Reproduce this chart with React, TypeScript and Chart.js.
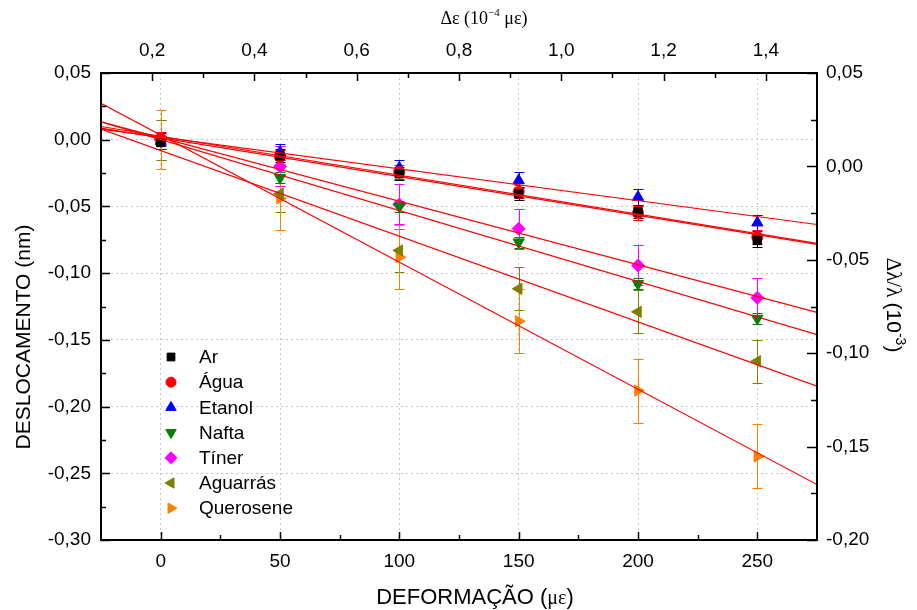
import React, { useEffect, useRef } from 'react';
import { Chart, registerables } from 'chart.js';
import { drawPoint } from 'chart.js/helpers';

Chart.register(...registerables);

// ---------- data ----------
const strain = [0, 50, 100, 150, 200, 250];
const seriesNames = ['Ar', 'Água', 'Etanol', 'Nafta', 'Tíner', 'Aguarrás', 'Querosene'];
const ar = [-0.002, -0.012, -0.0255, -0.0405, -0.054, -0.0755];
const agua = [0.001, -0.013, -0.0243, -0.039, -0.055, -0.073];
const etanol = [-0.001, -0.0093, -0.021, -0.0305, -0.043, -0.0622];
const nafta = [-0.001, -0.0285, -0.05, -0.0768, -0.108, -0.134];
const tiner = [0.0, -0.02, -0.0485, -0.0667, -0.0942, -0.1184];
const aguarras = [0.0, -0.0405, -0.083, -0.1117, -0.129, -0.166];
const querosene = [0.0, -0.044, -0.088, -0.136, -0.188, -0.2374];

const errAr = [0.005, 0.005, 0.005, 0.005, 0.005, 0.005];
const errAgua = [0.005, 0.005, 0.005, 0.005, 0.005, 0.005];
const errEtanol = [0.006, 0.006, 0.006, 0.006, 0.006, 0.006];
const errNafta = [0.004, 0.004, 0.004, 0.004, 0.004, 0.004];
const errTiner = [0.015, 0.015, 0.015, 0.015, 0.015, 0.015];
const errAguarras = [0.015, 0.014, 0.016, 0.016, 0.016, 0.016];
const errQuerosene = [0.022, 0.024, 0.024, 0.024, 0.024, 0.024];

const xTicks = [0, 50, 100, 150, 200, 250];
const xMinorTicks = [25, 75, 125, 175, 225];
const topTicks = [0.2, 0.4, 0.6, 0.8, 1.0, 1.2, 1.4];
const topMinorTicks = [0.3, 0.5, 0.7, 0.9, 1.1, 1.3];
const yTicks = [0.05, 0.0, -0.05, -0.1, -0.15, -0.2, -0.25, -0.3];
const yMinorTicks = [0.025, -0.025, -0.075, -0.125, -0.175, -0.225, -0.275];
const rightTicks = [0.05, 0.0, -0.05, -0.1, -0.15, -0.2];
const rightMinorTicks = [0.025, -0.025, -0.075, -0.125, -0.175];

// ---------- styles ----------
const SANS = "'Liberation Sans', Arial, sans-serif";
const SERIF = "'Liberation Serif', 'Times New Roman', serif";
const seriesValues = [ar, agua, etanol, nafta, tiner, aguarras, querosene];
const seriesErrors = [errAr, errAgua, errEtanol, errNafta, errTiner, errAguarras, errQuerosene];
const colors = ['#000000', '#ff0000', '#0000ff', '#008000', '#ff00ff', '#808000', '#ff8000'];
const styles = ['rect', 'circle', 'triangle', 'triangle', 'rectRot', 'triangle', 'triangle'];
const rotations = [0, 0, 0, 180, 0, 270, 90];
const radii = [6, 5.5, 6.5, 6.5, 6.5, 6.5, 6.5];

function linFit(xs: number[], ys: number[]) {
  const n = xs.length;
  const mx = xs.reduce((a, b) => a + b, 0) / n;
  const my = ys.reduce((a, b) => a + b, 0) / n;
  let sxy = 0, sxx = 0;
  for (let i = 0; i < n; i++) {
    sxy += (xs[i] - mx) * (ys[i] - my);
    sxx += (xs[i] - mx) ** 2;
  }
  const m = sxy / sxx;
  return { m, b: my - m * mx };
}

const fmt2 = (v: number) => v.toFixed(2).replace('.', ',');
const fmt1 = (v: number) => v.toFixed(1).replace('.', ',');

const customPlugin = {
  id: 'customDecor',
  beforeDatasetsDraw(chart: any) {
    const ctx = chart.ctx;
    const xs = chart.scales.x;
    const ys = chart.scales.y;
    ctx.save();
    ctx.lineWidth = 1;
    seriesValues.forEach((vals, si) => {
      ctx.strokeStyle = colors[si];
      vals.forEach((v, i) => {
        const e = seriesErrors[si][i];
        const px = Math.round(xs.getPixelForValue(strain[i])) + 0.5;
        const y1 = Math.round(ys.getPixelForValue(v + e)) + 0.5;
        const y2 = Math.round(ys.getPixelForValue(v - e)) + 0.5;
        ctx.beginPath();
        ctx.moveTo(px, y1);
        ctx.lineTo(px, y2);
        ctx.moveTo(px - 5, y1);
        ctx.lineTo(px + 5, y1);
        ctx.moveTo(px - 5, y2);
        ctx.lineTo(px + 5, y2);
        ctx.stroke();
      });
    });
    ctx.restore();
  },
  afterDraw(chart: any) {
    const ctx = chart.ctx;
    const a = chart.chartArea;
    const xs = chart.scales.x;
    const xt = chart.scales.xTop;
    const ys = chart.scales.y;
    const yr = chart.scales.yRight;
    ctx.save();
    // border
    ctx.strokeStyle = '#000';
    ctx.lineWidth = 2;
    ctx.strokeRect(a.left, a.top, a.right - a.left, a.bottom - a.top);
    // ticks
    ctx.lineWidth = 1.5;
    ctx.beginPath();
    const vTick = (px: number, y0: number, len: number) => {
      const x = Math.round(px) + 0.5;
      ctx.moveTo(x, y0);
      ctx.lineTo(x, y0 + len);
    };
    const hTick = (py: number, x0: number, len: number) => {
      const y = Math.round(py) + 0.5;
      ctx.moveTo(x0, y);
      ctx.lineTo(x0 + len, y);
    };
    xTicks.forEach(v => vTick(xs.getPixelForValue(v), a.bottom, -8));
    xMinorTicks.forEach(v => vTick(xs.getPixelForValue(v), a.bottom, -5));
    topTicks.forEach(v => vTick(xt.getPixelForValue(v), a.top, 8));
    topMinorTicks.forEach(v => vTick(xt.getPixelForValue(v), a.top, 5));
    yTicks.forEach(v => hTick(ys.getPixelForValue(v), a.left, 9));
    yMinorTicks.forEach(v => hTick(ys.getPixelForValue(v), a.left, 5));
    rightTicks.forEach(v => hTick(yr.getPixelForValue(v), a.right, -10));
    rightMinorTicks.forEach(v => hTick(yr.getPixelForValue(v), a.right, -6));
    ctx.stroke();

    // legend
    const lx = 171, ly0 = 357, dy = 25.2;
    seriesNames.forEach((name, i) => {
      const y = ly0 + i * dy;
      ctx.fillStyle = colors[i];
      ctx.strokeStyle = colors[i];
      ctx.lineWidth = 1;
      drawPoint(ctx, { pointStyle: styles[i], rotation: rotations[i], radius: radii[i] - 0.5, borderWidth: 1 } as any, lx, y);
      ctx.fillStyle = '#000';
      ctx.font = `19px ${SANS}`;
      ctx.textAlign = 'left';
      ctx.textBaseline = 'middle';
      ctx.fillText(name, 199, y + 1);
    });

    ctx.fillStyle = '#000';
    ctx.textBaseline = 'alphabetic';
    // bottom title
    {
      const p1 = 'DEFORMAÇÃO (';
      const p2 = 'με';
      const p3 = ')';
      const f1 = `22px ${SANS}`;
      const f2 = `20px ${SERIF}`;
      ctx.font = f1; const w1 = ctx.measureText(p1).width; const w3 = ctx.measureText(p3).width;
      ctx.font = f2; const w2 = ctx.measureText(p2).width;
      let x = 475 - (w1 + w2 + w3) / 2;
      const y = 604;
      ctx.textAlign = 'left';
      ctx.font = f1; ctx.fillText(p1, x, y); x += w1;
      ctx.font = f2; ctx.fillText(p2, x, y); x += w2;
      ctx.font = f1; ctx.fillText(p3, x, y);
    }
    // left title
    {
      ctx.save();
      ctx.translate(30, 337);
      ctx.rotate(-Math.PI / 2);
      ctx.font = `21px ${SANS}`;
      ctx.textAlign = 'center';
      ctx.fillText('DESLOCAMENTO (nm)', 0, 0);
      ctx.restore();
    }
    // top title
    {
      const f = `18px ${SERIF}`;
      const fs = `11px ${SERIF}`;
      const p1 = 'Δε (10';
      const sup = '−4';
      const p3 = ' με)';
      ctx.font = f; const w1 = ctx.measureText(p1).width; const w3 = ctx.measureText(p3).width;
      ctx.font = fs; const w2 = ctx.measureText(sup).width;
      let x = 484 - (w1 + w2 + w3) / 2;
      const y = 24;
      ctx.textAlign = 'left';
      ctx.font = f; ctx.fillText(p1, x, y); x += w1;
      ctx.font = fs; ctx.fillText(sup, x, y - 8); x += w2;
      ctx.font = f; ctx.fillText(p3, x, y);
    }
    // right title
    {
      ctx.save();
      ctx.translate(887, 305);
      ctx.rotate(Math.PI / 2);
      const f1 = `21px ${SERIF}`;
      const f2 = `21px ${SANS}`;
      const fs = `14px ${SANS}`;
      const p1 = 'Δλ/λ ';
      const p2 = '(10';
      const sup = '-3';
      const p4 = ')';
      ctx.font = f1; const w1 = ctx.measureText(p1).width;
      ctx.font = f2; const w2 = ctx.measureText(p2).width; const w4 = ctx.measureText(p4).width;
      ctx.font = fs; const w3 = ctx.measureText(sup).width;
      let x = -(w1 + w2 + w3 + w4) / 2;
      ctx.textAlign = 'left';
      ctx.font = f1; ctx.fillText(p1, x, 0); x += w1;
      ctx.font = f2; ctx.fillText(p2, x, 0); x += w2;
      ctx.font = fs; ctx.fillText(sup, x, -9); x += w3;
      ctx.font = f2; ctx.fillText(p4, x, 0);
      ctx.restore();
    }
    ctx.restore();
  },
};

export default function App() {
  const ref = useRef<HTMLCanvasElement | null>(null);
  useEffect(() => {
    if (!ref.current) return;
    const pointSets = seriesNames.map((name, i) => ({
      type: 'scatter' as const,
      label: name,
      data: strain.map((x, j) => ({ x, y: seriesValues[i][j] })),
      backgroundColor: colors[i],
      borderColor: colors[i],
      pointStyle: styles[i],
      pointRotation: rotations[i],
      pointRadius: radii[i],
      borderWidth: 1,
      xAxisID: 'x',
      yAxisID: 'y',
      order: 2,
    }));
    const fitSets = seriesValues.map((vals, i) => {
      const { m, b } = linFit(strain, vals);
      return {
        type: 'line' as const,
        label: 'fit ' + seriesNames[i],
        data: [-25, 275].map(x => ({ x, y: m * x + b })),
        borderColor: '#ff0000',
        borderWidth: 1.2,
        pointRadius: 0,
        fill: false,
        xAxisID: 'x',
        yAxisID: 'y',
        order: 1,
      };
    });
    const tickFont = { family: SANS, size: 19 };
    const chart = new Chart(ref.current, {
      type: 'scatter',
      data: { datasets: [...pointSets, ...fitSets] as any },
      plugins: [customPlugin],
      options: {
        animation: false,
        responsive: false,
        devicePixelRatio: 1,
        layout: { padding: 0 },
        plugins: { legend: { display: false }, tooltip: { enabled: false } },
        scales: {
          x: {
            type: 'linear', position: 'bottom', min: -25, max: 275,
            afterBuildTicks: (s: any) => { s.ticks = xTicks.map(v => ({ value: v })); },
            afterFit: (s: any) => { s.height = 70; },
            grid: { color: '#c8c8c8', lineWidth: 1, drawTicks: false },
            border: { display: false, dash: [2, 3] },
            ticks: { color: '#000', font: tickFont, padding: 10, maxRotation: 0, autoSkip: false, callback: (v: any) => String(v) },
          },
          xTop: {
            type: 'linear', position: 'top', min: 0.1, max: 1.5,
            afterBuildTicks: (s: any) => { s.ticks = topTicks.map(v => ({ value: v })); },
            afterFit: (s: any) => { s.height = 73; },
            grid: { display: false, drawTicks: false },
            border: { display: false },
            ticks: { color: '#000', font: tickFont, padding: 11, maxRotation: 0, autoSkip: false, callback: (v: any) => fmt1(Number(v)) },
          },
          y: {
            type: 'linear', position: 'left', min: -0.3, max: 0.05,
            afterBuildTicks: (s: any) => { s.ticks = yTicks.map(v => ({ value: v })); },
            afterFit: (s: any) => { s.width = 101; },
            grid: { color: '#c8c8c8', lineWidth: 1, drawTicks: false },
            border: { display: false, dash: [2, 3] },
            ticks: { color: '#000', font: tickFont, padding: 10, autoSkip: false, callback: (v: any) => fmt2(Number(v)) },
          },
          yRight: {
            type: 'linear', position: 'right', min: -0.2, max: 0.05,
            afterBuildTicks: (s: any) => { s.ticks = rightTicks.map(v => ({ value: v })); },
            afterFit: (s: any) => { s.width = 100; },
            grid: { display: false, drawTicks: false },
            border: { display: false },
            ticks: { color: '#000', font: tickFont, padding: 9, autoSkip: false, callback: (v: any) => fmt2(Number(v)) },
          },
        },
      } as any,
    });
    return () => chart.destroy();
  }, []);
  return (
    <canvas
      ref={ref}
      width={917}
      height={610}
      style={{ position: 'fixed', left: 0, top: 0, width: 917, height: 610 }}
    />
  );
}
